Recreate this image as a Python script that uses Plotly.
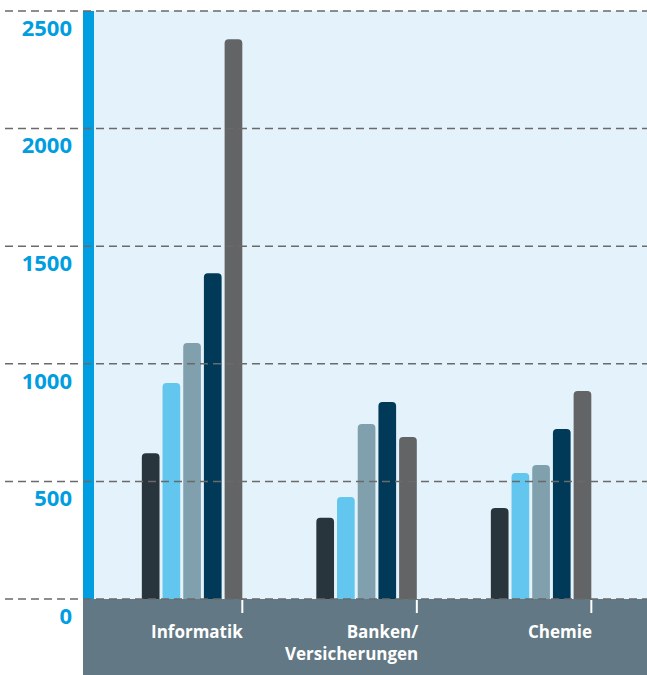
import plotly.graph_objects as go

categories = ["Informatik", "Banken/<br>Versicherungen", "Chemie"]
series_names = ["Reihe 1", "Reihe 2", "Reihe 3", "Reihe 4", "Reihe 5"]
series_values = [
    [620, 345, 387],
    [918, 434, 536],
    [1088, 744, 570],
    [1385, 838, 723],
    [2380, 689, 884],
]
colors = ["#29353d", "#62c6ee", "#80a0ae", "#003a58", "#636466"]
y_ticks = [0, 500, 1000, 1500, 2000, 2500]

W, H = 647, 675
ML, MR, MT, MB = 83, 0, 11, 76
YMAX = 2500
XR = [-0.625, 2.607]
TICK_OFF = 0.288

fig = go.Figure()
for name, vals, col in zip(series_names, series_values, colors):
    fig.add_trace(go.Bar(x=categories, y=vals, name=name, marker=dict(color=col, line=dict(width=0)),
                         hoverinfo="y+name"))

def xp(v):
    return (v - XR[0]) / (XR[1] - XR[0])

shapes = []
# slate footer
shapes.append(dict(type="rect", xref="paper", yref="paper", x0=0, x1=1, ysizemode="pixel", yanchor=0,
                   y0=-MB, y1=0, fillcolor="#627884", line=dict(width=0), layer="below"))
# blue strip
shapes.append(dict(type="rect", xref="paper", yref="paper", xsizemode="pixel", xanchor=0, x0=0, x1=11,
                   y0=0, y1=1, fillcolor="#009ee0", line=dict(width=0), layer="below"))
# gridlines
plot_w = W - ML - MR
for v in y_ticks:
    shapes.append(dict(type="line", xref="paper", yref="paper", x0=-(ML - 5) / plot_w, x1=1,
                       y0=v / YMAX, y1=v / YMAX, line=dict(color="#6a6a6a", width=1.5, dash="8px,5px"),
                       layer="above"))
annotations = []
for i, c in enumerate(categories):
    xpos = xp(i + TICK_OFF)
    shapes.append(dict(type="line", xref="paper", yref="paper", x0=xpos, x1=xpos, ysizemode="pixel",
                       yanchor=0, y0=-1, y1=-14, line=dict(color="white", width=2)))
    annotations.append(dict(text=c, xref="paper", yref="paper", x=xpos, y=0, xanchor="right",
                            yanchor="top", yshift=-19, xshift=3, align="right", showarrow=False,
                            font=dict(family="Open Sans", size=17, color="white", weight="bold")))

fig.update_layout(
    width=W, height=H,
    margin=dict(l=ML, r=MR, t=MT, b=MB, pad=0),
    paper_bgcolor="white",
    plot_bgcolor="#e4f3fb",
    barmode="group",
    bargap=0.407,
    bargroupgap=0.145,
    barcornerradius=4,
    showlegend=False,
    shapes=shapes,
    annotations=annotations,
    xaxis=dict(range=XR, showticklabels=False, showgrid=False, zeroline=False, ticks="", fixedrange=True),
    yaxis=dict(range=[0, YMAX], tickvals=y_ticks, showgrid=False, zeroline=False, ticks="",
               ticklabelshift=17, ticklabelstandoff=10,
               tickfont=dict(family="Open Sans", size=22, color="#009ee0", weight="bold")),
)

fig.write_html("out.html")
